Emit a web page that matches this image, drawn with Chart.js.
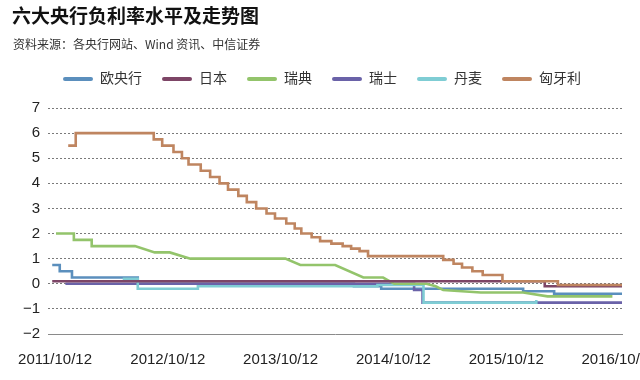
<!DOCTYPE html>
<html>
<head>
    <meta charset="UTF-8">
    <title>六大央行负利率水平及走势图</title>
    <script src="https://cdn.jsdelivr.net/npm/chart.js"></script>
    <style>
        body { margin: 0; background: #fff; }
        #wrap { position: relative; width: 640px; height: 380px; }
        #title {
            position: absolute; left: 12px; top: 1px;
            font: bold 19px "Noto Sans CJK SC", sans-serif; color: #111;
        }
        #source {
            position: absolute; left: 13px; top: 35px;
            font: 12px "Noto Sans CJK SC", sans-serif; color: #333;
        }
        canvas { position: absolute; left: 0; top: 0; }
    </style>
</head>
<body>
<div id="wrap">
    <canvas id="myChart" width="640" height="380"></canvas>
    <div id="title">六大央行负利率水平及走势图</div>
    <div id="source">资料来源：各央行网站、Wind 资讯、中信证券</div>
</div>

<script>
    // x = 距 2011/10/12 的月数，y = 利率(%)
    var tickMonths = [0, 12, 24, 36, 48, 60];
    var tickLabels = ['2011/10/12', '2012/10/12', '2013/10/12', '2014/10/12', '2015/10/12', '2016/10/12'];

    var ecbX = [-0.3, 0.5, 1.8, 8.8, 31.8, 34.7, 49.8, 53.1, 60.32];
    var ecbY = [0.75, 0.5, 0.25, 0, -0.1, -0.2, -0.3, -0.4, -0.4];

    var japanX = [-0.3, 52.1, 60.32];
    var japanY = [0.1, -0.1, -0.1];

    var swedenX = [0.1, 2.0, 2.0, 3.9, 3.9, 8.5, 10.6, 12.2, 14.4, 24.5, 26.1, 29.8, 32.8, 34.9, 36.1, 39.5, 40.5, 41.3, 45.3, 49.8, 52.4, 59.3];
    var swedenY = [2.0, 2.0, 1.75, 1.75, 1.5, 1.5, 1.25, 1.25, 1.0, 1.0, 0.75, 0.75, 0.25, 0.25, 0, 0, -0.1, -0.25, -0.35, -0.35, -0.5, -0.5];

    var swissX = [1.1, 38.2, 39.1, 60.32];
    var swissY = [0, -0.25, -0.75, -0.75];

    var denmarkX = [7.2, 8.8, 15.2, 34.3, 39.2, 51.2];
    var denmarkY = [0.2, -0.2, -0.1, -0.05, -0.75, -0.65];

    var hungaryX = [1.4, 2.2, 10.5, 11.4, 12.6, 13.5, 14.2, 15.5, 16.5, 17.5, 18.4, 19.5, 20.4, 21.4, 22.5, 23.4, 24.6, 25.5, 26.2, 27.3, 28.2, 29.4, 30.6, 31.5, 32.4, 33.3, 41.3, 42.4, 43.3, 44.4, 45.5, 47.6, 53.5, 60.32];
    var hungaryY = [5.5, 6.0, 5.75, 5.5, 5.25, 5.0, 4.75, 4.5, 4.25, 4.0, 3.75, 3.5, 3.25, 3.0, 2.8, 2.6, 2.4, 2.2, 2.0, 1.85, 1.7, 1.6, 1.5, 1.4, 1.3, 1.1, 0.95, 0.8, 0.65, 0.5, 0.35, 0.1, -0.05, -0.05];

    function points(xs, ys) {
        return xs.map(function (x, i) { return { x: x, y: ys[i] }; });
    }

    function series(label, xs, ys, color, order, stepped) {
        return {
            label: label,
            data: points(xs, ys),
            borderColor: color,
            backgroundColor: color,
            borderWidth: 2.6,
            pointRadius: 0,
            stepped: stepped,
            order: order
        };
    }

    Chart.defaults.font.family = "'Liberation Sans', 'Noto Sans CJK SC', sans-serif";
    Chart.defaults.color = '#222';

    // 图例下方多留一点空白
    var legendGap = {
        id: 'legendGap',
        afterInit: function (chart) {
            var fit = chart.legend.fit;
            chart.legend.fit = function () { fit.call(this); this.height += 12; };
        },
        afterLayout: function (chart) {
            chart.legend.left += 11;
            chart.legend.right += 11;
        }
    };

    var ctx = document.getElementById('myChart').getContext('2d');
    var myChart = new Chart(ctx, {
        type: 'line',
        data: {
            datasets: [
                series('欧央行', ecbX, ecbY, '#5b8fbd', 5, true),
                series('日本', japanX, japanY, '#7d4566', 1, true),
                series('瑞典', swedenX, swedenY, '#93c46b', 2, false),
                series('瑞士', swissX, swissY, '#6a62a8', 4, true),
                series('丹麦', denmarkX, denmarkY, '#7fcdd4', 3, true),
                series('匈牙利', hungaryX, hungaryY, '#bf8560', 0, true)
            ]
        },
        plugins: [legendGap],
        options: {
            responsive: false,
            animation: false,
            events: [],
            layout: { padding: { top: 52, right: 18, bottom: 14, left: 0 } },
            plugins: {
                tooltip: { enabled: false },
                legend: {
                    position: 'top',
                    labels: {
                        boxWidth: 30,
                        boxHeight: 4,
                        useBorderRadius: true,
                        borderRadius: 2,
                        padding: 20,
                        color: '#333',
                        font: { size: 14 },
                        sort: function (a, b) { return a.datasetIndex - b.datasetIndex; },
                        generateLabels: function (chart) {
                            var items = Chart.defaults.plugins.legend.labels.generateLabels(chart);
                            items.forEach(function (it) { it.fillStyle = it.strokeStyle; it.lineWidth = 0; });
                            return items;
                        }
                    }
                }
            },
            scales: {
                x: {
                    type: 'linear',
                    min: -0.75,
                    max: 60.32,
                    afterBuildTicks: function (scale) {
                        scale.ticks = tickMonths.map(function (v) { return { value: v }; });
                    },
                    afterFit: function (scale) {
                        scale.height = 32;
                        scale.paddingLeft = 0;
                        scale.paddingRight = 0;
                    },
                    grid: { display: false },
                    border: { display: true, color: '#8a8a8a', width: 1 },
                    ticks: {
                        autoSkip: false,
                        maxRotation: 0,
                        padding: 9,
                        color: '#222',
                        font: { size: 15 },
                        callback: function (v) { return tickLabels[tickMonths.indexOf(v)]; }
                    }
                },
                y: {
                    min: -2,
                    max: 7,
                    afterFit: function (scale) { scale.width = 48; },
                    // 网格线用点线
                    border: { display: false, dash: [2, 2] },
                    grid: {
                        drawTicks: false,
                        color: function (c) { return c.tick && c.tick.value === -2 ? 'rgba(0,0,0,0)' : '#7a7a7a'; },
                        lineWidth: 1
                    },
                    ticks: {
                        stepSize: 1,
                        padding: 8,
                        color: '#222',
                        font: { size: 15 },
                        callback: function (v) { return v < 0 ? '\u2212' + Math.abs(v) : v; }
                    }
                }
            }
        }
    });
</script>
</body>
</html>
